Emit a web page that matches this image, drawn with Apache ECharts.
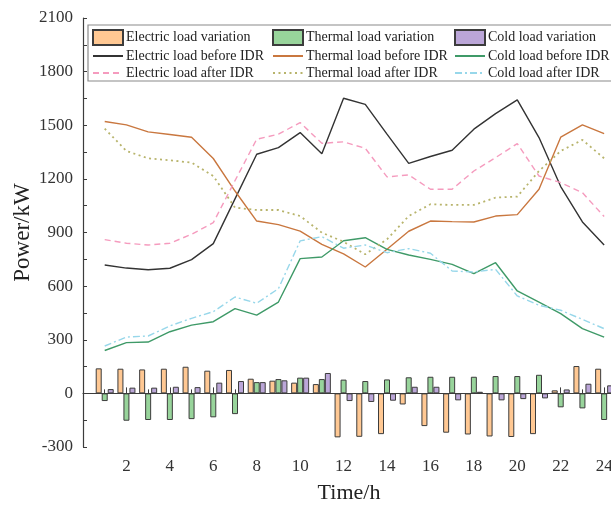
<!DOCTYPE html>
<html>
<head>
<meta charset="utf-8">
<script src="https://cdn.jsdelivr.net/npm/echarts@6/dist/echarts.min.js"></script>
<style>
  html, body { margin: 0; padding: 0; background: #fff; }
  #chart { width: 611px; height: 506px; }
</style>
</head>
<body>
<div id="chart"></div>
<script>
// Hours of the day
const hours = [1, 2, 3, 4, 5, 6, 7, 8, 9, 10, 11, 12, 13, 14, 15, 16, 17, 18, 19, 20, 21, 22, 23, 24];

// Load variation caused by integrated demand response (kW)
const elecVariation = [140, 138, 134, 138, 149, 127, 131, 82, 71, 60, 52, -246, -243, -228, -62, -183, -220, -230, -241, -244, -228, 17, 153, 138];
const thermVariation = [-43, -153, -149, -149, -144, -134, -116, 63, 80, 88, 80, 77, 69, 78, 90, 93, 93, 93, 97, 97, 104, -78, -84, -149];
const coldVariation = [24, 32, 32, 37, 35, 60, 69, 63, 73, 88, 114, -43, -48, -41, 37, 37, -39, 9, -39, -32, -28, 22, 54, 45];

// Loads before IDR (kW)
const elecBefore = [718, 701, 692, 700, 748, 838, 1088, 1338, 1375, 1459, 1340, 1651, 1617, 1450, 1287, 1325, 1360, 1478, 1565, 1642, 1431, 1157, 959, 830];
const thermBefore = [1521, 1502, 1463, 1448, 1433, 1314, 1132, 964, 944, 908, 834, 780, 707, 806, 907, 964, 961, 959, 992, 1000, 1142, 1433, 1502, 1453];
const coldBefore = [240, 284, 287, 345, 382, 401, 474, 438, 511, 754, 763, 854, 871, 806, 774, 750, 722, 670, 731, 573, 511, 446, 362, 315];

// Loads after IDR (kW)
const elecAfter = [860, 840, 830, 840, 890, 955, 1190, 1422, 1450, 1515, 1399, 1407, 1371, 1211, 1222, 1142, 1142, 1244, 1319, 1397, 1216, 1179, 1123, 989];
const thermAfter = [1481, 1356, 1315, 1304, 1291, 1216, 1039, 1026, 1026, 992, 899, 848, 778, 862, 992, 1058, 1054, 1054, 1095, 1101, 1244, 1356, 1418, 1315];
const coldAfter = [265, 315, 321, 377, 420, 457, 539, 504, 586, 853, 877, 812, 830, 787, 810, 784, 685, 679, 694, 545, 493, 465, 414, 362];

// Axis ticks
const yMin = -300, yMax = 2100, yStep = 300;
const xMin = 0, xMax = 24.5, xStep = 2;

const FONT = '"Liberation Serif", "DejaVu Serif", serif';
const pair = arr => hours.map((h, i) => [h, arr[i]]);

function barSeries(name, data, fill) {
  return {
    name, type: 'bar', data: pair(data), barWidth: 6, barGap: '0%',
    itemStyle: { color: fill, borderColor: '#3c3c3c', borderWidth: 1 }, z: 2
  };
}
function lineSeries(name, data, color, type, width) {
  return {
    name, type: 'line', data: pair(data), symbol: 'none', smooth: false,
    lineStyle: { color, width: width || 1.4, type: type || 'solid' },
    itemStyle: { color }, z: 3
  };
}

const series = [
  barSeries('Electric load variation', elecVariation, '#FFC893'),
  barSeries('Thermal load variation', thermVariation, '#98D49B'),
  barSeries('Cold load variation', coldVariation, '#BBA6D8'),
  lineSeries('Electric load before IDR', elecBefore, '#333333'),
  lineSeries('Thermal load before IDR', thermBefore, '#C9773F'),
  lineSeries('Cold load before IDR', coldBefore, '#3F9A68'),
  lineSeries('Electric load after IDR', elecAfter, '#F59BBE', [6, 4]),
  lineSeries('Thermal load after IDR', thermAfter, '#B8B46C', [2, 3.5], 1.8),
  lineSeries('Cold load after IDR', coldAfter, '#97D7EA', [7, 3, 2, 3])
];

// Zero reference line across the plot
series[0].markLine = {
  silent: true, symbol: 'none', label: { show: false },
  lineStyle: { color: '#3c3c3c', width: 1, type: 'solid' },
  data: [{ yAxis: 0 }]
};

// Legend entries: boxes for the bars, plain strokes (no point marker) for the lines
function legendColumn(left, names) {
  return {
    orient: 'vertical', left, top: 29, itemWidth: 30, itemHeight: 15, itemGap: 3,
    data: names.map(n => (n.endsWith('variation')
      ? { name: n, icon: 'rect' }
      : { name: n, itemStyle: { opacity: 0 } })),
    textStyle: { fontFamily: FONT, fontSize: 14, color: '#222', padding: [0, 0, 0, -2] },
    padding: 0, z: 20
  };
}

const chart = echarts.init(document.getElementById('chart'), null, { renderer: 'canvas' });
chart.setOption({
  animation: false,
  backgroundColor: '#fff',
  textStyle: { fontFamily: FONT },
  // fixed plot rectangle; the time axis runs on past the right edge of the canvas
  grid: { left: 83, top: 18, width: 532, height: 429, containLabel: false, outerBoundsMode: 'none' },
  graphic: [{
    type: 'rect', shape: { x: 88, y: 25, width: 540, height: 56 },
    style: { fill: 'rgba(255,255,255,0.9)', stroke: '#8a8a8a', lineWidth: 1.2 }, z: 10
  }],
  legend: [
    legendColumn(92, ['Electric load variation', 'Electric load before IDR', 'Electric load after IDR']),
    legendColumn(272, ['Thermal load variation', 'Thermal load before IDR', 'Thermal load after IDR']),
    legendColumn(454, ['Cold load variation', 'Cold load before IDR', 'Cold load after IDR'])
  ],
  xAxis: {
    type: 'value', min: xMin, max: xMax, interval: xStep,
    name: 'Time/h', nameLocation: 'middle', nameGap: 35, nameMoveOverlap: false,
    nameTextStyle: { fontFamily: FONT, fontSize: 22, color: '#222' },
    axisLine: { show: true, lineStyle: { color: '#3c3c3c', width: 1.2 } },
    axisTick: { show: true, inside: true, length: 6, lineStyle: { color: '#3c3c3c' } },
    minorTick: { show: true, splitNumber: 2, length: 4, lineStyle: { color: '#3c3c3c' } },
    splitLine: { show: false },
    axisLabel: {
      fontFamily: FONT, fontSize: 17, color: '#333', margin: 11,
      showMinLabel: false, showMaxLabel: false,
      formatter: v => (v === 0 ? '' : String(v))
    }
  },
  yAxis: {
    type: 'value', min: yMin, max: yMax, interval: yStep,
    name: 'Power/kW', nameLocation: 'middle', nameGap: 49, nameMoveOverlap: false,
    nameTextStyle: { fontFamily: FONT, fontSize: 23, color: '#222' },
    axisLine: { show: true, lineStyle: { color: '#3c3c3c', width: 1.2 } },
    axisTick: { show: true, inside: true, length: 4, lineStyle: { color: '#3c3c3c' } },
    minorTick: { show: true, splitNumber: 2, length: 4, lineStyle: { color: '#3c3c3c' } },
    splitLine: { show: false },
    axisLabel: { fontFamily: FONT, fontSize: 17, color: '#333', margin: 10, formatter: v => String(v) }
  },
  series
});
</script>
</body>
</html>
